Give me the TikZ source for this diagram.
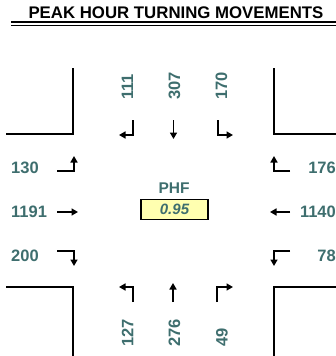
\documentclass[tikz,border=0pt]{standalone}
\usepackage{fontspec}
\setmainfont{Liberation Sans}
\usetikzlibrary{arrows.meta}
\definecolor{numcol}{RGB}{62,110,110}
\definecolor{boxfill}{RGB}{255,255,176}
\tikzset{
  num/.style={font=\bfseries\fontsize{16.5}{16.5}\selectfont, text=numcol, inner sep=0pt},
  corner/.style={line width=2.2pt, line cap=rect},
  mv/.style={line width=1.6pt, -{Triangle[length=6.5pt,width=7pt]}},
}
\begin{document}
\begin{tikzpicture}[x=1pt,y=-1pt]
\useasboundingbox (0,0) rectangle (336,356);
\clip (0,0) rectangle (336,356);
% title
\node[font=\bfseries\fontsize{16.8}{16.8}\selectfont, inner sep=0pt] (title) at (176,13) {PEAK HOUR TURNING MOVEMENTS};
\draw[line width=2pt] (11,22) -- (336,22);
\draw[line width=1pt] (11,25.5) -- (336,25.5);
% corners
\draw[corner] (7,134) -- (73,134) -- (73,69);
\draw[corner] (274,69) -- (274,134) -- (340,134);
\draw[corner] (7,287) -- (73,287) -- (73,360);
\draw[corner] (340,287) -- (274,287) -- (274,360);
% top labels
\node[num, rotate=90, anchor=west] (n111) at (127.5,100) {111};
\node[num, rotate=90, anchor=west] (n307) at (174.5,100) {307};
\node[num, rotate=90, anchor=west] (n170) at (221.5,100) {170};
% bottom labels
\node[num, rotate=90, anchor=west] (n127) at (127.5,347) {127};
\node[num, rotate=90, anchor=west] (n276) at (174.5,347) {276};
\node[num, rotate=90, anchor=west] (n49) at (222,347) {49};
% left labels
\node[num, anchor=west] (n130) at (11,168) {130};
\node[num, anchor=west] (n1191) at (11,212) {1191};
\node[num, anchor=west] (n200) at (11,256) {200};
% right labels
\node[num, anchor=east] (n176) at (336,168) {176};
\node[num, anchor=east] (n1140) at (336,212) {1140};
\node[num, anchor=east] (n78) at (336,256) {78};
% top arrows
\draw[mv] (133,120) -- (133,135) -- (119,135);
\draw[mv] (173.5,120) -- (173.5,139);
\draw[mv] (218,120) -- (218,135) -- (233,135);
% bottom arrows
\draw[mv] (133,302) -- (133,287) -- (119,287);
\draw[mv] (173,302) -- (173,283);
\draw[mv] (217,302) -- (217,287) -- (233,287);
% left arrows
\draw[mv] (57,171) -- (74,171) -- (74,156);
\draw[mv] (57,212) -- (78,212);
\draw[mv] (57,251) -- (74,251) -- (74,266);
% right arrows
\draw[mv] (290,171) -- (274,171) -- (274,156);
\draw[mv] (290,212) -- (270,212);
\draw[mv] (290,251) -- (274,251) -- (274,266);
% PHF
\node[font=\bfseries\fontsize{15.5}{15.5}\selectfont, text=numcol, inner sep=0pt] (phf) at (174,188.5) {PHF};
\node[draw, line width=1.6pt, fill=boxfill, minimum width=67pt, minimum height=20pt, inner sep=0pt,
      font=\bfseries\itshape\fontsize{15}{15}\selectfont, text=numcol] (phfbox) at (174.5,209.5) {0.95};
\end{tikzpicture}
\end{document}
